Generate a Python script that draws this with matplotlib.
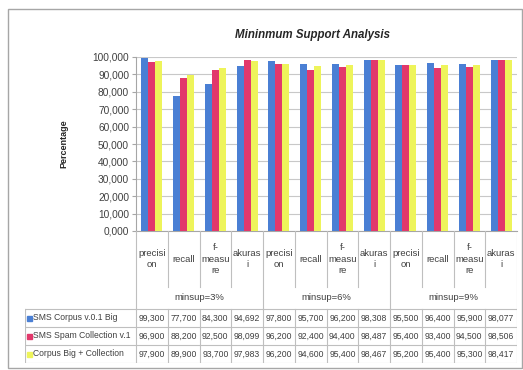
import matplotlib.pyplot as plt
import numpy as np

plt.rcParams['font.family'] = ['Liberation Sans', 'DejaVu Sans']

metrics = ['precisi\non', 'recall', 'f-\nmeasu\nre', 'akuras\ni']
groups = ['minsup=3%', 'minsup=6%', 'minsup=9%']
series = ['SMS Corpus v.0.1 Big', 'SMS Spam Collection v.1', 'Corpus Big + Collection']
corpus_big = [99.3, 77.7, 84.3, 94.692, 97.8, 95.7, 96.2, 98.308, 95.5, 96.4, 95.9, 98.077]
spam_coll = [96.9, 88.2, 92.5, 98.099, 96.2, 92.4, 94.4, 98.487, 95.4, 93.4, 94.5, 98.506]
big_coll = [97.9, 89.9, 93.7, 97.983, 96.2, 94.6, 95.4, 98.467, 95.2, 95.4, 95.3, 98.417]
colors = ['#4A7FD4', '#E2386B', '#EEF45A']

values = [corpus_big, spam_coll, big_coll]
cats = metrics * len(groups)
n = len(cats)
x = np.arange(n)


def fmt(v):
    return f'{v:,.3f}'.replace('.', ',')


W, H = 523, 370
fig = plt.figure(figsize=(W / 100, H / 100), dpi=100)

# chart area border
fig.add_artist(plt.Rectangle((8 / W, 1 - 368 / H), 514 / W, 359 / H, transform=fig.transFigure,
                             fill=False, ec='#A6A6A6', lw=1))

left, right, top, bottom = 136, 517, 57, 231
ax = fig.add_axes([left / W, 1 - bottom / H, (right - left) / W, (bottom - top) / H])
bw = 0.22
for j, vals in enumerate(values):
    ax.bar(x + (j - 1) * bw, vals, bw, color=colors[j], zorder=3)
ax.set_xlim(-0.5, n - 0.5)
ax.set_ylim(0, 100)
ax.set_yticks(np.arange(0, 101, 10))
ax.set_yticklabels([fmt(t) for t in np.arange(0, 101, 10)], fontsize=7.3, color='#404040')
ax.set_xticks([])
ax.grid(axis='y', color='#C8C8C8', lw=0.8, zorder=0)
for s in ['top', 'right']:
    ax.spines[s].set_visible(False)
ax.spines['left'].set_color('#A6A6A6')
ax.spines['bottom'].set_color('#A6A6A6')
ax.tick_params(axis='y', length=3, color='#A6A6A6', pad=2)
ax.set_ylabel('Percentage', fontsize=6.5, fontweight='bold', labelpad=17, color='#262626')
ax.set_title('Mininmum Support Analysis', fontsize=8.3, fontweight='bold', style='italic',
             pad=14, color='#262626', x=0.462)

# data table below the plot
unit = (right - left) / n
leg_left = 25
tb = 363
tax = fig.add_axes([leg_left / W, 1 - tb / H, (right - leg_left) / W, (tb - bottom) / H])
tax.set_xlim(-0.5 - (left - leg_left) / unit, n - 0.5)
tax.set_ylim(tb, bottom)
tax.axis('off')
lc = '#BFBFBF'
xl = -0.5 - (left - leg_left) / unit
row_top = 309
rows = [row_top, 327, 345, tb]
for k in range(n + 1):
    xb = k - 0.5
    y_end = row_top if k % 4 == 0 else 287
    tax.plot([xb, xb], [bottom, y_end], color=lc, lw=0.8)
    tax.plot([xb, xb], [row_top, tb], color=lc, lw=0.8)
tax.plot([xl, xl], [row_top, tb], color=lc, lw=0.8)
for yr in rows:
    tax.plot([xl, n - 0.5], [yr, yr], color=lc, lw=0.8)

for i, c in enumerate(cats):
    tax.text(i, 259, c, ha='center', va='center', fontsize=6.8, color='#404040', linespacing=1.3)
for g, name in enumerate(groups):
    tax.text(g * 4 + 1.5, 297, name, ha='center', va='center', fontsize=6.8, color='#404040')
for j, vals in enumerate(values):
    yc = (rows[j] + rows[j + 1]) / 2
    tax.plot(xl + 0.13, yc, marker='s', ms=3.6, color=colors[j], ls='none')
    tax.text(xl + 0.26, yc, series[j], ha='left', va='center', fontsize=6.2, color='#404040')
    for i, v in enumerate(vals):
        tax.text(i, yc, fmt(v), ha='center', va='center', fontsize=6.2, color='#404040')

fig.savefig('out.png', dpi=100)
